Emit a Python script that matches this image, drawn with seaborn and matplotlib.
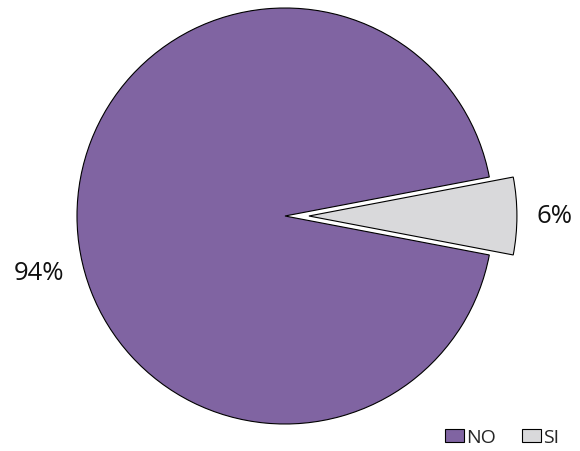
import numpy as np
import matplotlib
matplotlib.use("Agg")
import matplotlib.pyplot as plt
import seaborn as sns

sns.set_theme(style="white")
plt.rcParams['font.family'] = ['Open Sans', 'DejaVu Sans']

categories = ["NO", "SI"]
values = [94, 6]
colors = ["#8064A2", "#D9D9DB"]
explode = [0, 0.115]

fig = plt.figure(figsize=(5.8, 4.52), dpi=100)
ax = fig.add_axes([0, 0, 1, 1])

startangle = 360 * values[1] / 100 / 2
wedges, texts, autotexts = ax.pie(
    values, colors=colors, explode=explode, startangle=startangle,
    autopct=lambda p: "%d%%" % round(p), pctdistance=1.18,
    wedgeprops=dict(edgecolor="black", linewidth=0.8),
    textprops=dict(fontsize=18.5, color="#111111"),
)

# move the big label lower-left like the original
ang = np.deg2rad(193)
autotexts[0].set_position((1.215 * np.cos(ang), 1.215 * np.sin(ang)))

ax.set_aspect("auto")
ax.set_xlim(-285 / 208, (580 - 285) / 208)
ax.set_ylim(-235 / 208, 217 / 208)
ax.axis("off")

ax.legend(wedges, categories, loc="lower right", bbox_to_anchor=(0.994, -0.028),
          bbox_transform=fig.transFigure, ncol=2, frameon=False, fontsize=14,
          handlelength=1.0, handleheight=0.7, handletextpad=0.1, columnspacing=1.3)

fig.savefig("out.png", dpi=100)
